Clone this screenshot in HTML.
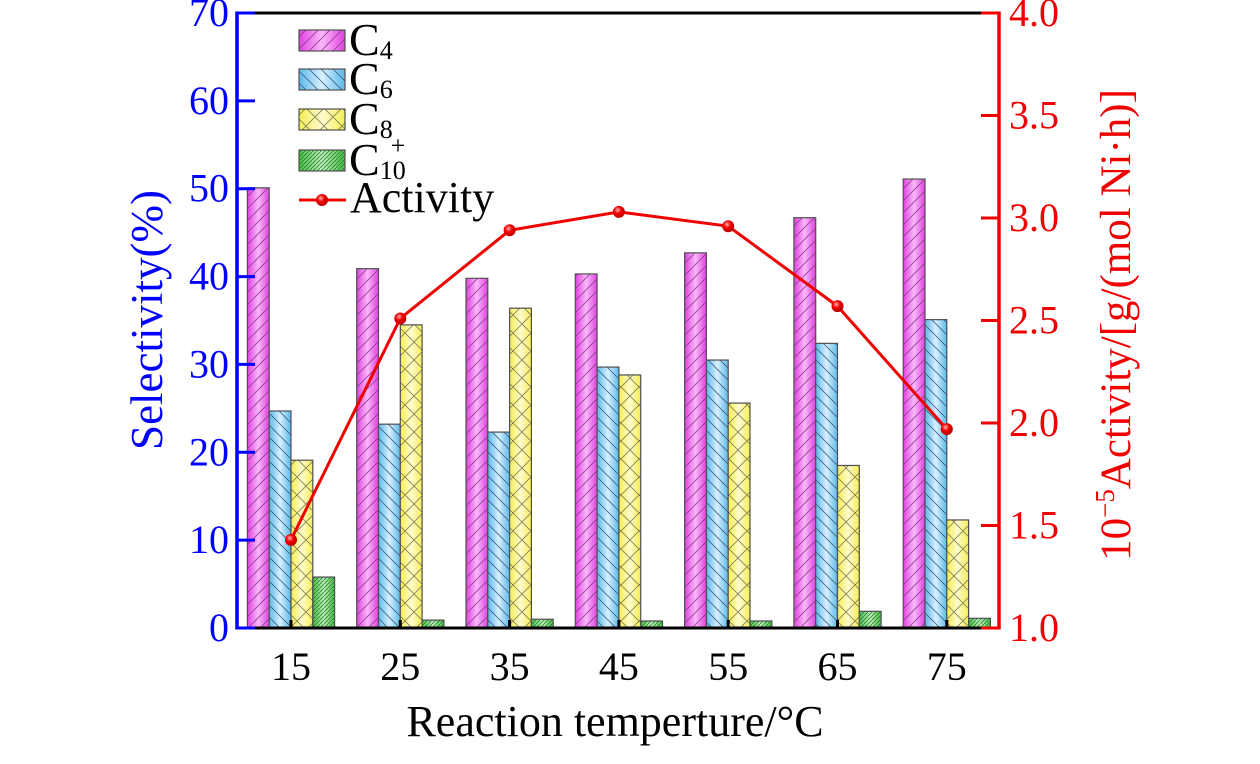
<!DOCTYPE html>
<html><head><meta charset="utf-8"><style>
html,body{margin:0;padding:0;background:#fff;}
svg{display:block;}
text{font-family:"Liberation Serif","Times New Roman",serif;}
</style></head><body>
<svg id="chart" width="1260" height="764" xmlns="http://www.w3.org/2000/svg" font-family="Liberation Serif, serif">
<defs>
<linearGradient id="gC4" x1="0" x2="1"><stop offset="0" stop-color="#e040e0"/><stop offset="0.5" stop-color="#fbb8fb"/><stop offset="1" stop-color="#e040e0"/></linearGradient>
<linearGradient id="gC6" x1="0" x2="1"><stop offset="0" stop-color="#5ab8ea"/><stop offset="0.5" stop-color="#d8f0ff"/><stop offset="1" stop-color="#5ab8ea"/></linearGradient>
<linearGradient id="gC8" x1="0" x2="1"><stop offset="0" stop-color="#f5ee50"/><stop offset="0.5" stop-color="#fffbd0"/><stop offset="1" stop-color="#f5ee50"/></linearGradient>
<linearGradient id="gC10" x1="0" x2="1"><stop offset="0" stop-color="#40c040"/><stop offset="0.5" stop-color="#b8f0b8"/><stop offset="1" stop-color="#40c040"/></linearGradient>
<pattern id="hC4" width="12" height="12" patternUnits="userSpaceOnUse"><path d="M0,12 L12,0 M-3,3 L3,-3 M9,15 L15,9" stroke="#904090" stroke-width="0.8"/></pattern>
<pattern id="hC6" width="12" height="12" patternUnits="userSpaceOnUse"><path d="M0,0 L12,12 M-3,9 L3,15 M9,-3 L15,3" stroke="#406080" stroke-width="0.8"/></pattern>
<pattern id="hC8" width="18" height="18" patternUnits="userSpaceOnUse"><path d="M0,0 L18,18 M18,0 L0,18" stroke="#808050" stroke-width="0.8"/></pattern>
<pattern id="hC10" width="4" height="4" patternUnits="userSpaceOnUse"><path d="M0,4 L4,0" stroke="#307030" stroke-width="0.7"/></pattern>
<radialGradient id="dot" cx="0.4" cy="0.35" r="0.6"><stop offset="0" stop-color="#ffb0b0"/><stop offset="0.5" stop-color="#f00000"/><stop offset="1" stop-color="#c00000"/></radialGradient>
</defs>
<g id="bars"></g>
<g id="line"></g>
<g id="axes"></g>
<g id="legend"></g>
</svg>
<script>
const categories = [15, 25, 35, 45, 55, 65, 75];
const c4 = [50.1, 40.9, 39.8, 40.3, 42.7, 46.7, 51.1];
const c6 = [24.7, 23.2, 22.3, 29.7, 30.5, 32.4, 35.1];
const c8 = [19.1, 34.5, 36.4, 28.8, 25.6, 18.5, 12.3];
const c10 = [5.8, 0.9, 1.0, 0.8, 0.8, 1.9, 1.1];
const activity = [1.43, 2.51, 2.94, 3.03, 2.96, 2.57, 1.97];
const leftTicks = [0, 10, 20, 30, 40, 50, 60, 70];
const rightTicks = ["1.0","1.5","2.0","2.5","3.0","3.5","4.0"];

const NS = "http://www.w3.org/2000/svg";
const FF = '"Liberation Serif", serif';
const X0 = 237, X1 = 999, Y0 = 628, Y1 = 13;
const xStep = 109.3, xFirst = 291;
const xPos = i => xFirst + i * xStep;
const yL = v => Y0 - (v / 70) * (Y0 - Y1);
const yR = v => Y0 - ((v - 1) / 3) * (Y0 - Y1);
const bw = 21.8;
function mk(tag, attrs, parent) {
  const e = document.createElementNS(NS, tag);
  for (const k in attrs) e.setAttribute(k, attrs[k]);
  if (tag === 'text') e.setAttribute('font-family', FF);
  parent.appendChild(e);
  return e;
}
const bars = document.getElementById('bars');
const series = [["c4", c4, -2], ["c6", c6, -1], ["c8", c8, 0], ["c10", c10, 1]];
series.forEach(([name, vals, off]) => {
  const key = name.toUpperCase();
  vals.forEach((v, i) => {
    const x = xPos(i) + off * bw, y = yL(v), h = Y0 - y;
    const g = mk('g', {}, bars);
    
    
    mk('rect', {x: x, y: y, width: bw, height: h, fill: 'url(#g' + key + ')'}, g);
    mk('rect', {x: x, y: y, width: bw, height: h, fill: 'url(#h' + key + ')', stroke: '#505050', 'stroke-width': 1.2}, g);
  });
});
const line = document.getElementById('line');
const pts = activity.map((v, i) => xPos(i) + ',' + yR(v)).join(' ');
const pl = mk('polyline', {points: pts, fill: 'none', stroke: '#f00000', 'stroke-width': 3}, line);


activity.forEach((v, i) => {
  const c = mk('circle', {cx: xPos(i), cy: yR(v), r: 6, fill: 'url(#dot)'}, line);
  
  
});
const ax = document.getElementById('axes');
function txt(s, attrs, name) {
  const t = mk('text', attrs, ax);
  t.textContent = s;
  
  
  return t;
}
mk('line', {x1: X0, y1: Y1, x2: X1, y2: Y1, stroke: '#000', 'stroke-width': 3}, ax);
const bx = mk('line', {x1: X0, y1: Y0, x2: X1, y2: Y0, stroke: '#000', 'stroke-width': 3}, ax);


const la = mk('line', {x1: X0, y1: Y1 - 1.5, x2: X0, y2: Y0 + 1.5, stroke: '#0000ff', 'stroke-width': 3.5}, ax);


const ra = mk('line', {x1: X1, y1: Y1 - 1.5, x2: X1, y2: Y0 + 1.5, stroke: '#f00000', 'stroke-width': 3.5}, ax);


leftTicks.forEach(v => {
  const y = yL(v);
  mk('line', {x1: X0, y1: y, x2: X0 + 18, y2: y, stroke: '#0000ff', 'stroke-width': 3}, ax);
  txt(String(v), {x: X0 - 8, y: y + 13, 'text-anchor': 'end', 'font-size': 40, fill: '#0000ff'}, 'left-tick-' + v);
});
rightTicks.forEach(s => {
  const y = yR(parseFloat(s));
  mk('line', {x1: X1, y1: y, x2: X1 - 18, y2: y, stroke: '#f00000', 'stroke-width': 3}, ax);
  txt(s, {x: X1 + 10, y: y + 13, 'font-size': 40, fill: '#f00000'}, 'right-tick-' + s);
});
categories.forEach((c, i) => {
  const x = xPos(i);
  mk('line', {x1: x, y1: Y0, x2: x, y2: Y0 - 8, stroke: '#000', 'stroke-width': 3}, ax);
  txt(String(c), {x: x, y: 680, 'text-anchor': 'middle', 'font-size': 40, fill: '#000'}, 'x-tick-' + c);
});
txt('Reaction temperture/°C', {x: 615, y: 736, 'text-anchor': 'middle', 'font-size': 44, fill: '#000'}, 'x-axis-title');
txt('Selectivity(%)', {x: 0, y: 0, transform: 'translate(162,320) rotate(-90)', 'text-anchor': 'middle', 'font-size': 45, fill: '#0000ff'}, 'left-y-axis-title');
const rt = txt('', {x: 0, y: 0, transform: 'translate(1130,325) rotate(-90)', 'text-anchor': 'middle', 'font-size': 43, fill: '#f00000'}, 'right-y-axis-title');
rt.innerHTML = '10<tspan dy="-16" font-size="27">−5</tspan><tspan dy="16">Activity/[g/(mol Ni·h)]</tspan>';

const lg = document.getElementById('legend');
const items = [["C4","4",""],["C6","6",""],["C8","8",""],["C10","10","+"]];
const rows = [40, 79, 119, 160];
items.forEach(([k, sub, sup], i) => {
  const y = rows[i];
  const g = mk('g', {}, lg);
  
  
  mk('rect', {x: 299, y: y - 10, width: 46, height: 21, fill: 'url(#g' + k + ')'}, g);
  mk('rect', {x: 299, y: y - 10, width: 46, height: 21, fill: 'url(#h' + k + ')', stroke: '#505050', 'stroke-width': 1.2}, g);
  const t = mk('text', {x: 349, y: y + 15, 'font-size': 46, fill: '#000'}, g);
  t.innerHTML = 'C<tspan font-size="26" dy="4">' + sub + '</tspan>';
  if (sup) {
    const s = mk('text', {x: 398, y: y - 6, 'font-size': 26, 'text-anchor': 'middle', fill: '#000'}, g);
    s.textContent = sup;
  }
});
const ga = mk('g', {}, lg);


mk('line', {x1: 299, y1: 200, x2: 346, y2: 200, stroke: '#f00000', 'stroke-width': 3}, ga);
mk('circle', {cx: 322, cy: 200, r: 6, fill: 'url(#dot)'}, ga);
const at = mk('text', {x: 350, y: 212, 'font-size': 44, fill: '#000'}, ga);
at.textContent = 'Activity';
</script>
</body></html>
